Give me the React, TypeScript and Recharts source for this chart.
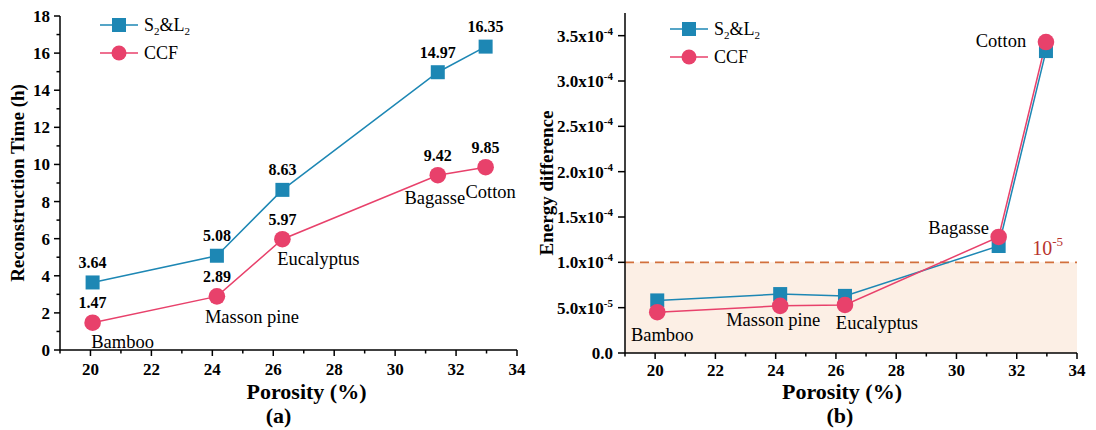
import React from 'react';
import { LineChart, Line, XAxis, YAxis, ReferenceArea, ReferenceLine, Legend, LabelList } from 'recharts';

const BLUE = '#1d87b4';
const PINK = '#e8416b';
const FONT = "'Liberation Serif', 'Times New Roman', Times, serif";

const samples = ['Bamboo', 'Masson pine', 'Eucalyptus', 'Bagasse', 'Cotton'];
const porosity = [20.07, 24.15, 26.3, 31.4, 32.97];
const timeS2L2 = [3.64, 5.08, 8.63, 14.97, 16.35];
const timeCCF = [1.47, 2.89, 5.97, 9.42, 9.85];
const energyS2L2 = [5.8e-5, 6.5e-5, 6.3e-5, 1.18e-4, 3.33e-4];
const energyCCF = [4.5e-5, 5.2e-5, 5.3e-5, 1.28e-4, 3.43e-4];

const xTicks = [19, 20, 21, 22, 23, 24, 25, 26, 27, 28, 29, 30, 31, 32, 33, 34];
const timeTicks = [0, 1, 2, 3, 4, 5, 6, 7, 8, 9, 10, 11, 12, 13, 14, 15, 16, 17, 18];
const energyTicks = [0, 5e-5, 1e-4, 1.5e-4, 2e-4, 2.5e-4, 3e-4, 3.5e-4];
const energyTickBase = ['0.0', '5.0x10', '1.0x10', '1.5x10', '2.0x10', '2.5x10', '3.0x10', '3.5x10'];
const energyTickExp = ['', '-5', '-4', '-4', '-4', '-4', '-4', '-4'];
const threshold = 1e-4;
const seriesNames = ['S2&L2', 'CCF'];

// label placement (layout only)
const nameOffsetA = [[30, 19], [35, 20], [36, 19], [-3, 22], [5, 24]];
const nameOffsetB = [[5, 22], [-7, 14], [32, 18], [-40, -9], [-45, -1]];

const dataA = porosity.map((x, i) => ({ x, s: timeS2L2[i], c: timeCCF[i], name: samples[i] }));
const dataB = porosity.map((x, i) => ({ x, s: energyS2L2[i], c: energyCCF[i], name: samples[i] }));

const AXIS = { stroke: '#000', strokeWidth: 1.5 };

const XTick = (props: any) => {
  const { x, y, payload, gap } = props;
  const v = payload.value;
  const major = Math.round(v) % 2 === 0;
  return (
    <g>
      <line x1={x} x2={x} y1={y} y2={y + (major ? 6 : 3.5)} stroke="#000" strokeWidth={1.5} />
      {major && (
        <text x={x} y={y + gap} textAnchor="middle" fontSize={17} fontWeight="bold" fill="#000" fontFamily={FONT}>
          {v}
        </text>
      )}
    </g>
  );
};

const TimeTick = (props: any) => {
  const { x, y, payload } = props;
  const v = payload.value;
  const major = Math.round(v) % 2 === 0;
  return (
    <g>
      <line x1={x} x2={x - (major ? 6 : 3.5)} y1={y} y2={y} stroke="#000" strokeWidth={1.5} />
      {major && (
        <text x={x - 10} y={y} dy="0.35em" textAnchor="end" fontSize={17} fontWeight="bold" fill="#000" fontFamily={FONT}>
          {v}
        </text>
      )}
    </g>
  );
};

const EnergyTick = (props: any) => {
  const { x, y, payload } = props;
  const v = payload.value;
  const idx = energyTicks.findIndex((t) => Math.abs(t - v) < 1e-12);
  const base = idx >= 0 ? energyTickBase[idx] : '';
  const exp = idx >= 0 ? energyTickExp[idx] : '';
  return (
    <g>
      <line x1={x} x2={x - 7} y1={y} y2={y} stroke="#000" strokeWidth={1.5} />
      <text x={x - 12} y={y} dy="0.35em" textAnchor="end" fontSize={17} fontWeight="bold" fill="#000" fontFamily={FONT}>
        {base}
        {exp && (
          <tspan dy={-7} fontSize={11}>
            {exp}
          </tspan>
        )}
      </text>
    </g>
  );
};

const XTitle = (props: any) => {
  const vb = props.viewBox || {};
  const cx = vb.x + vb.width / 2;
  return (
    <g>
      <text x={cx + props.dx1} y={vb.y + props.dy1} dy="0.35em" textAnchor="middle" fontSize={22} fontWeight="bold" fill="#000" fontFamily={FONT}>
        Porosity (%)
      </text>
      <text x={cx + props.dx2} y={vb.y + props.dy2} dy="0.35em" textAnchor="middle" fontSize={22} fontWeight="bold" fill="#000" fontFamily={FONT}>
        {props.sub}
      </text>
    </g>
  );
};

const YTitle = (props: any) => {
  const vb = props.viewBox || {};
  const cx = props.cx;
  const cy = vb.y + vb.height / 2 + (props.shift || 0);
  return (
    <text
      x={cx}
      y={cy}
      dy="0.35em"
      transform={`rotate(-90, ${cx}, ${cy})`}
      textAnchor="middle"
      fontSize={19}
      fontWeight="bold"
      fill="#000"
      fontFamily={FONT}
    >
      {props.text}
    </text>
  );
};

const LegendBox = () => (
  <svg width={130} height={60} style={{ overflow: 'visible', display: 'block' }}>
    <line x1={0} x2={38} y1={12} y2={12} stroke={BLUE} strokeWidth={1.5} />
    <rect x={12} y={5} width={14} height={14} fill={BLUE} />
    <text x={44} y={12} dy="0.35em" fontSize={18} fill="#000" fontFamily={FONT}>
      S<tspan dy={4} fontSize={11}>2</tspan>
      <tspan dy={-4}>{'&L'}</tspan>
      <tspan dy={4} fontSize={11}>2</tspan>
    </text>
    <line x1={0} x2={38} y1={40} y2={40} stroke={PINK} strokeWidth={1.5} />
    <circle cx={19} cy={40} r={7.5} fill={PINK} />
    <text x={44} y={40} dy="0.35em" fontSize={18} fill="#000" fontFamily={FONT}>
      {seriesNames[1]}
    </text>
  </svg>
);

const squareDot = (p: any) =>
  p.cx == null ? null : <rect key={`sq-${p.index}`} x={p.cx - 7} y={p.cy - 7} width={14} height={14} fill={BLUE} />;
const circleDot = (p: any) =>
  p.cx == null ? null : <circle key={`ci-${p.index}`} cx={p.cx} cy={p.cy} r={8.3} fill={PINK} />;

const getXY = (props: any) => {
  const vb = props.viewBox || {};
  const x = vb.x != null ? vb.x : props.x;
  const y = vb.y != null ? vb.y : props.y;
  return [x, y];
};

const ValueLabel = (props: any) => {
  const [x, y] = getXY(props);
  if (x == null || y == null) return null;
  return (
    <text x={x} y={y - 20} dy="0.35em" textAnchor="middle" fontSize={16} fontWeight="bold" fill="#000" fontFamily={FONT}>
      {Number(props.value).toFixed(2)}
    </text>
  );
};

const makeNameLabel = (offsets: number[][]) => (props: any) => {
  const [x, y] = getXY(props);
  const i = props.index;
  if (x == null || y == null || i == null) return null;
  const off = offsets[i] || [0, 0];
  return (
    <text x={x + off[0]} y={y + off[1]} dy="0.35em" textAnchor="middle" fontSize={18.5} fill="#000" fontFamily={FONT}>
      {samples[i]}
    </text>
  );
};
const NameLabelA = makeNameLabel(nameOffsetA);
const NameLabelB = makeNameLabel(nameOffsetB);

const ThresholdLabel = (props: any) => {
  const vb = props.viewBox || {};
  return (
    <text x={vb.x + vb.width - 14} y={vb.y - 7} textAnchor="end" fontSize={20} fill="#b8342f" fontFamily={FONT}>
      10
      <tspan dy={-9} fontSize={13}>
        -5
      </tspan>
    </text>
  );
};

export default function App() {
  return (
    <div style={{ position: 'absolute', left: 0, top: 0, width: 1096, height: 430, background: '#fff', fontFamily: FONT }}>
      <div style={{ position: 'absolute', left: 0, top: 0 }}>
        <LineChart width={548} height={430} data={dataA} margin={{ top: 16, right: 31, left: 0, bottom: 0 }}>
          <XAxis
            type="number"
            dataKey="x"
            domain={[19, 34]}
            ticks={xTicks}
            interval={0}
            tickSize={0}
            tickMargin={0}
            height={80}
            axisLine={AXIS}
            tick={<XTick gap={25} />}
            label={<XTitle dx1={18} dy1={41} dx2={-10} dy2={65} sub="(a)" />}
            allowDataOverflow
          />
          <YAxis
            type="number"
            domain={[0, 18]}
            ticks={timeTicks}
            interval={0}
            width={60}
            tickSize={0}
            tickMargin={0}
            axisLine={AXIS}
            tick={<TimeTick />}
            label={<YTitle text="Reconstruction Time (h)" cx={17} shift={0} />}
            allowDataOverflow
          />
          <Legend
            layout="vertical"
            align="center"
            verticalAlign="middle"
            content={<LegendBox />}
            wrapperStyle={{ left: 100, top: 13, width: 130, height: 60 }}
          />
          <Line dataKey="s" name={seriesNames[0]} stroke={BLUE} strokeWidth={1.5} dot={squareDot} activeDot={false} isAnimationActive={false}>
            <LabelList dataKey="s" content={ValueLabel} />
          </Line>
          <Line dataKey="c" name={seriesNames[1]} stroke={PINK} strokeWidth={1.5} dot={circleDot} activeDot={false} isAnimationActive={false}>
            <LabelList dataKey="c" content={ValueLabel} />
            <LabelList dataKey="name" content={NameLabelA} />
          </Line>
        </LineChart>
      </div>
      <div style={{ position: 'absolute', left: 530, top: 0 }}>
        <LineChart width={566} height={430} data={dataB} margin={{ top: 13, right: 19, left: 0, bottom: 0 }}>
          <XAxis
            type="number"
            dataKey="x"
            domain={[19, 34]}
            ticks={xTicks}
            interval={0}
            tickSize={0}
            tickMargin={0}
            height={77}
            axisLine={AXIS}
            tick={<XTick gap={23} />}
            label={<XTitle dx1={-9} dy1={38} dx2={-11} dy2={62} sub="(b)" />}
            allowDataOverflow
          />
          <YAxis
            type="number"
            domain={[0, 3.75e-4]}
            ticks={energyTicks}
            interval={0}
            width={95}
            tickSize={0}
            tickMargin={0}
            axisLine={AXIS}
            tick={<EnergyTick />}
            label={<YTitle text="Energy difference" cx={16} shift={0} />}
            allowDataOverflow
          />
          <ReferenceArea x1={19} x2={34} y1={0} y2={threshold} fill="#fcefe5" fillOpacity={1} stroke="none" ifOverflow="hidden" />
          <ReferenceLine y={threshold} stroke="#d2703c" strokeDasharray="9 6" strokeWidth={1.8} label={<ThresholdLabel />} />
          <Legend
            layout="vertical"
            align="center"
            verticalAlign="middle"
            content={<LegendBox />}
            wrapperStyle={{ left: 140, top: 17, width: 130, height: 60 }}
          />
          <Line dataKey="s" name={seriesNames[0]} stroke={BLUE} strokeWidth={1.5} dot={squareDot} activeDot={false} isAnimationActive={false} />
          <Line dataKey="c" name={seriesNames[1]} stroke={PINK} strokeWidth={1.5} dot={circleDot} activeDot={false} isAnimationActive={false}>
            <LabelList dataKey="name" content={NameLabelB} />
          </Line>
        </LineChart>
      </div>
    </div>
  );
}
